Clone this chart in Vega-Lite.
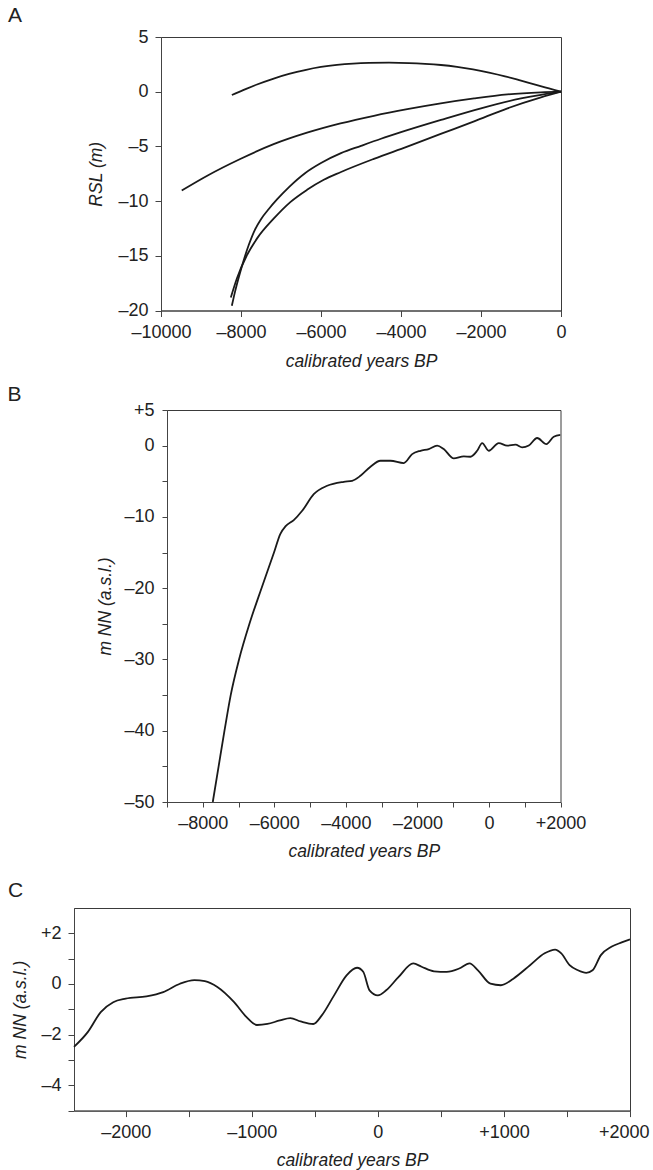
{
  "$schema": "https://vega.github.io/schema/vega-lite/v6.json",
  "background": "white",
  "padding": {"left": 6, "top": 4, "right": 0, "bottom": 0},
  "config": {
    "font": "Liberation Sans",
    "view": {"stroke": "#3a3a3a", "strokeWidth": 1},
    "axis": {
      "grid": false,
      "domainColor": "#444444",
      "tickColor": "#444444",
      "labelColor": "#222222",
      "titleColor": "#222222",
      "labelFont": "Liberation Sans",
      "labelFontSize": 18,
      "titleFont": "Liberation Sans",
      "titleFontSize": 17.5,
      "titleFontStyle": "italic",
      "titleFontWeight": "normal",
      "tickSize": 6,
      "labelPadding": 7,
      "labelFlush": false,
      "labelOverlap": false
    },
    "title": {"font": "Liberation Sans", "fontSize": 21, "fontWeight": "normal", "anchor": "start", "baseline": "bottom", "color": "#222222", "frame": "group"},
    "line": {"color": "#1a1a1a", "strokeWidth": 1.8, "interpolate": "monotone"}
  },
  "datasets": {
    "none": [],
    "rslA": [
      {"curve": "c1", "year": -8229, "rsl": -0.3},
      {"curve": "c1", "year": -8000, "rsl": 0.05},
      {"curve": "c1", "year": -7600, "rsl": 0.66},
      {"curve": "c1", "year": -7200, "rsl": 1.18},
      {"curve": "c1", "year": -6800, "rsl": 1.62},
      {"curve": "c1", "year": -6400, "rsl": 1.98},
      {"curve": "c1", "year": -6000, "rsl": 2.26},
      {"curve": "c1", "year": -5600, "rsl": 2.45},
      {"curve": "c1", "year": -5200, "rsl": 2.57},
      {"curve": "c1", "year": -4800, "rsl": 2.63},
      {"curve": "c1", "year": -4300, "rsl": 2.65},
      {"curve": "c1", "year": -3800, "rsl": 2.62},
      {"curve": "c1", "year": -3400, "rsl": 2.55},
      {"curve": "c1", "year": -3000, "rsl": 2.44},
      {"curve": "c1", "year": -2600, "rsl": 2.27},
      {"curve": "c1", "year": -2200, "rsl": 2.04},
      {"curve": "c1", "year": -1800, "rsl": 1.75},
      {"curve": "c1", "year": -1400, "rsl": 1.41},
      {"curve": "c1", "year": -1000, "rsl": 1.01},
      {"curve": "c1", "year": -600, "rsl": 0.6},
      {"curve": "c1", "year": -300, "rsl": 0.3},
      {"curve": "c1", "year": 0, "rsl": 0},
      {"curve": "c2", "year": -9482, "rsl": -9.03},
      {"curve": "c2", "year": -8855, "rsl": -7.7},
      {"curve": "c2", "year": -8020, "rsl": -6.15},
      {"curve": "c2", "year": -7184, "rsl": -4.8},
      {"curve": "c2", "year": -6349, "rsl": -3.75},
      {"curve": "c2", "year": -5513, "rsl": -2.9},
      {"curve": "c2", "year": -4678, "rsl": -2.2},
      {"curve": "c2", "year": -3843, "rsl": -1.6},
      {"curve": "c2", "year": -3007, "rsl": -1.07},
      {"curve": "c2", "year": -2172, "rsl": -0.62},
      {"curve": "c2", "year": -1337, "rsl": -0.25},
      {"curve": "c2", "year": -501, "rsl": -0.06},
      {"curve": "c2", "year": 0, "rsl": 0},
      {"curve": "c3", "year": -8229, "rsl": -19.57},
      {"curve": "c3", "year": -8150, "rsl": -18.3},
      {"curve": "c3", "year": -8050, "rsl": -16.9},
      {"curve": "c3", "year": -7936, "rsl": -15.45},
      {"curve": "c3", "year": -7800, "rsl": -13.95},
      {"curve": "c3", "year": -7650, "rsl": -12.6},
      {"curve": "c3", "year": -7500, "rsl": -11.65},
      {"curve": "c3", "year": -7300, "rsl": -10.7},
      {"curve": "c3", "year": -7100, "rsl": -9.85},
      {"curve": "c3", "year": -6800, "rsl": -8.72},
      {"curve": "c3", "year": -6400, "rsl": -7.45},
      {"curve": "c3", "year": -6000, "rsl": -6.52},
      {"curve": "c3", "year": -5500, "rsl": -5.62},
      {"curve": "c3", "year": -5000, "rsl": -4.95},
      {"curve": "c3", "year": -4500, "rsl": -4.3},
      {"curve": "c3", "year": -4000, "rsl": -3.7},
      {"curve": "c3", "year": -3000, "rsl": -2.58},
      {"curve": "c3", "year": -2000, "rsl": -1.52},
      {"curve": "c3", "year": -1000, "rsl": -0.62},
      {"curve": "c3", "year": -500, "rsl": -0.28},
      {"curve": "c3", "year": 0, "rsl": 0},
      {"curve": "c4", "year": -8254, "rsl": -18.81},
      {"curve": "c4", "year": -8103, "rsl": -17.08},
      {"curve": "c4", "year": -7853, "rsl": -14.95},
      {"curve": "c4", "year": -7602, "rsl": -13.43},
      {"curve": "c4", "year": -7184, "rsl": -11.61},
      {"curve": "c4", "year": -6767, "rsl": -10.09},
      {"curve": "c4", "year": -6349, "rsl": -8.97},
      {"curve": "c4", "year": -5931, "rsl": -8.05},
      {"curve": "c4", "year": -5513, "rsl": -7.36},
      {"curve": "c4", "year": -4678, "rsl": -6.14},
      {"curve": "c4", "year": -3843, "rsl": -5.02},
      {"curve": "c4", "year": -3007, "rsl": -3.86},
      {"curve": "c4", "year": -2172, "rsl": -2.71},
      {"curve": "c4", "year": -1337, "rsl": -1.52},
      {"curve": "c4", "year": -501, "rsl": -0.52},
      {"curve": "c4", "year": 0, "rsl": 0}
    ],
    "seaB": [
      {"year": -7720, "level": -50},
      {"year": -7557, "level": -45},
      {"year": -7393, "level": -40},
      {"year": -7219, "level": -35},
      {"year": -6986, "level": -30},
      {"year": -6695, "level": -25},
      {"year": -6358, "level": -20},
      {"year": -6009, "level": -15},
      {"year": -5834, "level": -12.4},
      {"year": -5683, "level": -11.3},
      {"year": -5456, "level": -10.45},
      {"year": -5221, "level": -9.14},
      {"year": -4897, "level": -6.8},
      {"year": -4522, "level": -5.63},
      {"year": -4058, "level": -5.07},
      {"year": -3824, "level": -4.93},
      {"year": -3592, "level": -4.23},
      {"year": -3312, "level": -2.96},
      {"year": -3033, "level": -2.12},
      {"year": -2753, "level": -2.12},
      {"year": -2381, "level": -2.45},
      {"year": -2147, "level": -1.19},
      {"year": -1915, "level": -0.72},
      {"year": -1683, "level": -0.48},
      {"year": -1448, "level": 0.01},
      {"year": -1264, "level": -0.48},
      {"year": -984, "level": -1.8},
      {"year": -704, "level": -1.52},
      {"year": -517, "level": -1.56},
      {"year": -330, "level": -0.72},
      {"year": -190, "level": 0.36},
      {"year": -5, "level": -0.72},
      {"year": 274, "level": 0.36},
      {"year": 509, "level": 0.01},
      {"year": 741, "level": 0.13},
      {"year": 928, "level": -0.25},
      {"year": 1113, "level": 0.01},
      {"year": 1347, "level": 1.07},
      {"year": 1607, "level": 0.22},
      {"year": 1811, "level": 1.25},
      {"year": 2000, "level": 1.5}
    ],
    "seaC": [
      {"year": -2410, "level": -2.48},
      {"year": -2298, "level": -1.88},
      {"year": -2198, "level": -1.11},
      {"year": -2099, "level": -0.72},
      {"year": -2000, "level": -0.58},
      {"year": -1835, "level": -0.49},
      {"year": -1702, "level": -0.32},
      {"year": -1570, "level": 0.01},
      {"year": -1455, "level": 0.15},
      {"year": -1372, "level": 0.11},
      {"year": -1273, "level": -0.12},
      {"year": -1140, "level": -0.72},
      {"year": -1041, "level": -1.31},
      {"year": -959, "level": -1.62},
      {"year": -876, "level": -1.58},
      {"year": -777, "level": -1.44},
      {"year": -694, "level": -1.35},
      {"year": -612, "level": -1.48},
      {"year": -512, "level": -1.58},
      {"year": -446, "level": -1.25},
      {"year": -347, "level": -0.45},
      {"year": -248, "level": 0.34},
      {"year": -165, "level": 0.64},
      {"year": -116, "level": 0.48},
      {"year": -66, "level": -0.25},
      {"year": 0, "level": -0.45},
      {"year": 66, "level": -0.25},
      {"year": 165, "level": 0.28},
      {"year": 281, "level": 0.81},
      {"year": 347, "level": 0.68},
      {"year": 446, "level": 0.5},
      {"year": 546, "level": 0.48},
      {"year": 645, "level": 0.61},
      {"year": 727, "level": 0.81},
      {"year": 794, "level": 0.54},
      {"year": 893, "level": 0.01},
      {"year": 976, "level": -0.05},
      {"year": 1075, "level": 0.21},
      {"year": 1207, "level": 0.74},
      {"year": 1323, "level": 1.21},
      {"year": 1406, "level": 1.36},
      {"year": 1455, "level": 1.21},
      {"year": 1521, "level": 0.74},
      {"year": 1587, "level": 0.54},
      {"year": 1653, "level": 0.44},
      {"year": 1703, "level": 0.54},
      {"year": 1769, "level": 1.14},
      {"year": 1852, "level": 1.47},
      {"year": 1934, "level": 1.64},
      {"year": 2000, "level": 1.76}
    ]
  },
  "spacing": 19,
  "vconcat": [
    {
      "spacing": 12,
      "vconcat": [
        {
          "spacing": 0,
          "hconcat": [
            {"width": 1, "height": 1, "view": {"stroke": null}, "data": {"name": "none"}, "mark": {"type": "point"}},
            {
              "title": {"text": "A", "dx": -153, "offset": 1.8},
              "width": 400,
              "height": 273.5,
              "data": {"name": "rslA"},
              "mark": {"type": "line"},
              "encoding": {
                "x": {
                  "field": "year", "type": "quantitative",
                  "scale": {"domain": [-10000, 0], "nice": false, "zero": false},
                  "axis": {
                    "values": [-10000, -8000, -6000, -4000, -2000, 0],
                    "labelExpr": "datum.value < 0 ? '–' + format(-datum.value, 'd') : format(datum.value, 'd')",
                    "title": "calibrated years BP",
                    "titlePadding": 11
                  }
                },
                "y": {
                  "field": "rsl", "type": "quantitative",
                  "scale": {"domain": [-20, 5], "nice": false, "zero": false},
                  "axis": {
                    "values": [-20, -15, -10, -5, 0, 5],
                    "labelExpr": "datum.value < 0 ? '–' + format(-datum.value, 'd') : format(datum.value, 'd')",
                    "title": "RSL (m)",
                    "titlePadding": 12
                  }
                },
                "detail": {"field": "curve", "type": "nominal"}
              }
            }
          ]
        },
        {
          "spacing": 0,
          "hconcat": [
            {"width": 1, "height": 1, "view": {"stroke": null}, "data": {"name": "none"}, "mark": {"type": "point"}},
            {
              "title": {"text": "B", "dx": -159.5, "offset": -4.4},
              "width": 393.5,
              "height": 392,
              "data": {"name": "seaB"},
              "mark": {"type": "line", "clip": true},
              "encoding": {
                "x": {
                  "field": "year", "type": "quantitative",
                  "scale": {"domain": [-9000, 2000], "nice": false, "zero": false},
                  "axis": {
                    "values": [-9000, -8000, -7000, -6000, -5000, -4000, -3000, -2000, -1000, 0, 1000, 2000],
                    "labelExpr": "datum.value % 2000 != 0 ? '' : (datum.value < 0 ? '–' + format(-datum.value, 'd') : datum.value > 0 ? '+' + format(datum.value, 'd') : '0')",
                    "tickSize": 5,
                    "title": "calibrated years BP",
                    "titlePadding": 10
                  }
                },
                "y": {
                  "field": "level", "type": "quantitative",
                  "scale": {"domain": [-50, 5], "nice": false, "zero": false},
                  "axis": {
                    "values": [-50, -45, -40, -35, -30, -25, -20, -15, -10, -5, 0, 5],
                    "labelExpr": "(datum.value % 10 != 0 && datum.value != 5) ? '' : (datum.value < 0 ? '–' + format(-datum.value, 'd') : datum.value > 0 ? '+' + format(datum.value, 'd') : '0')",
                    "tickSize": 5,
                    "labelPadding": 8,
                    "title": "m NN (a.s.l.)",
                    "titlePadding": 9
                  }
                }
              }
            }
          ]
        }
      ]
    },
    {
      "spacing": 0,
      "hconcat": [
        {"width": 1, "height": 1, "view": {"stroke": null}, "data": {"name": "none"}, "mark": {"type": "point"}},
        {
          "title": {"text": "C", "dx": -66, "offset": 7},
          "width": 556,
          "height": 202.6,
          "data": {"name": "seaC"},
          "mark": {"type": "line"},
          "encoding": {
            "x": {
              "field": "year", "type": "quantitative",
              "scale": {"domain": [-2410, 2000], "nice": false, "zero": false},
              "axis": {
                "values": [-2000, -1500, -1000, -500, 0, 500, 1000, 1500, 2000],
                "labelExpr": "datum.value % 1000 != 0 ? '' : (datum.value < 0 ? '–' + format(-datum.value, 'd') : datum.value > 0 ? '+' + format(datum.value, 'd') : '0')",
                "labelFlush": true,
                "labelFlushOffset": 19,
                "title": "calibrated years BP",
                "titlePadding": 10
              }
            },
            "y": {
              "field": "level", "type": "quantitative",
              "scale": {"domain": [-5, 3], "nice": false, "zero": false},
              "axis": {
                "values": [-5, -4, -3, -2, -1, 0, 1, 2],
                "labelExpr": "datum.value % 2 != 0 ? '' : (datum.value < 0 ? '–' + format(-datum.value, 'd') : datum.value > 0 ? '+' + format(datum.value, 'd') : '0')",
                "title": "m NN (a.s.l.)",
                "titlePadding": 11
              }
            }
          }
        }
      ]
    }
  ]
}
